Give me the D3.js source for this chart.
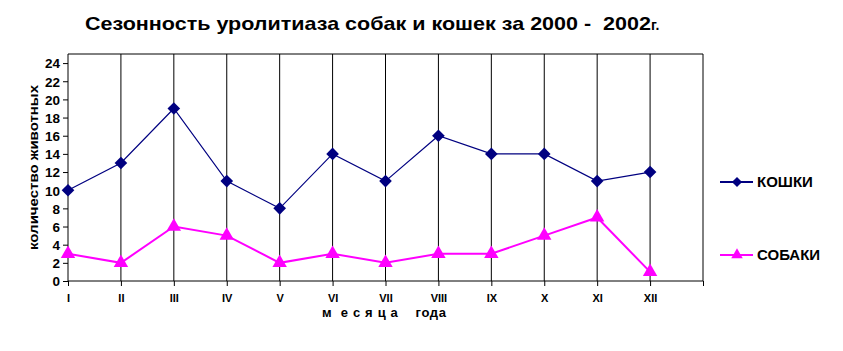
<!DOCTYPE html>
<html>
<head>
<meta charset="utf-8">
<script src="https://cdn.jsdelivr.net/npm/d3@7"></script>
<style>
  body { margin: 0; background: #fff; }
  svg { display: block; font-family: "Liberation Sans", Arial, sans-serif; }
</style>
</head>
<body>
<div id="chart"></div>
<script>
const months = ["I", "II", "III", "IV", "V", "VI", "VII", "VIII", "IX", "X", "XI", "XII"];
const cats = [10, 13, 19, 11, 8, 14, 11, 16, 14, 14, 11, 12];
const dogs = [3, 2, 6, 5, 2, 3, 2, 3, 3, 5, 7, 1];
const yTicks = [0, 2, 4, 6, 8, 10, 12, 14, 16, 18, 20, 22, 24];

const width = 843, height = 351;

const svg = d3
  .select("#chart")
  .append("svg")
  .attr("width", width)
  .attr("height", height);

// one extra empty slot on the right, like the original sheet
const x = d3.scaleLinear().domain([0, 12]).range([68, 703]);
const y = d3.scaleLinear().domain([0, 25]).range([281, 54]);

// title
svg
  .append("text")
  .attr("x", 85)
  .attr("y", 30)
  .attr("font-size", 19)
  .attr("font-weight", "bold")
  .attr("textLength", 566)
  .attr("lengthAdjust", "spacingAndGlyphs")
  .attr("xml:space", "preserve")
  .style("white-space", "pre")
  .text("Сезонность уролитиаза собак и кошек за 2000 -  2002");
svg
  .append("text")
  .attr("x", 651)
  .attr("y", 30)
  .attr("font-size", 14)
  .attr("font-weight", "bold")
  .text("г.");

// vertical grid lines
svg
  .append("g")
  .selectAll("line")
  .data(d3.range(1, 13))
  .join("line")
  .attr("x1", (d) => x(d))
  .attr("x2", (d) => x(d))
  .attr("y1", y(25))
  .attr("y2", y(0))
  .attr("stroke", "#000");

// top border
svg
  .append("line")
  .attr("x1", x(0))
  .attr("x2", x(12))
  .attr("y1", y(25))
  .attr("y2", y(25))
  .attr("stroke", "#000");

// axes
const yAxis = svg
  .append("g")
  .attr("transform", `translate(${x(0)},0)`)
  .call(d3.axisLeft(y).tickValues(yTicks).tickSize(5).tickPadding(3));
yAxis.select(".domain").attr("d", `M0,${y(25)}V${y(0)}`);

const xAxis = svg
  .append("g")
  .attr("transform", `translate(0,${y(0)})`)
  .call(
    d3.axisBottom(x)
      .tickValues(d3.range(0, 13))
      .tickFormat((d) => months[d] || "")
      .tickSize(5)
      .tickPadding(8)
  );
xAxis.select(".domain").attr("d", `M${x(0)},0H${x(12)}`);

svg.selectAll(".tick text")
  .attr("font-family", "Liberation Sans, Arial, sans-serif")
  .attr("font-weight", "bold")
  .attr("fill", "#000");
yAxis.selectAll(".tick text").attr("font-size", 13.5).attr("dy", "0.36em");
xAxis.selectAll(".tick text").attr("font-size", 11);

// axis titles
svg
  .append("text")
  .attr("transform", `translate(38,${(y(0) + y(25)) / 2}) rotate(-90)`)
  .attr("text-anchor", "middle")
  .attr("font-size", 13)
  .attr("font-weight", "bold")
  .attr("textLength", 165)
  .attr("lengthAdjust", "spacingAndGlyphs")
  .text("количество животных");

svg
  .append("text")
  .attr("x", 322)
  .attr("y", 317)
  .attr("font-size", 13)
  .attr("font-weight", "bold")
  .attr("textLength", 124)
  .attr("xml:space", "preserve")
  .style("white-space", "pre")
  .text("м  е с я ц а    года");

// markers
const diamond = d3.symbol(d3.symbolSquare, 80);
const triangle = d3.symbol(d3.symbolTriangle, 90);

const series = [
  { name: "КОШКИ", values: cats, color: "#000080", width: 1.2, marker: diamond, rot: 45, ly: 182 },
  { name: "СОБАКИ", values: dogs, color: "#FF00FF", width: 2, marker: triangle, rot: 0, ly: 255 },
];

const line = d3
  .line()
  .x((d, i) => x(i))
  .y((d) => y(d));

for (const s of series) {
  svg
    .append("path")
    .datum(s.values)
    .attr("fill", "none")
    .attr("stroke", s.color)
    .attr("stroke-width", s.width)
    .attr("d", line);

  svg
    .append("g")
    .selectAll("path")
    .data(s.values)
    .join("path")
    .attr("transform", (d, i) => `translate(${x(i)},${y(d)}) rotate(${s.rot})`)
    .attr("d", s.marker)
    .attr("fill", s.color);

  // legend
  const lg = svg.append("g").attr("transform", `translate(720,${s.ly})`);
  lg.append("line")
    .attr("x1", 0)
    .attr("x2", 33)
    .attr("stroke", s.color)
    .attr("stroke-width", 2);
  lg.append("path")
    .attr("transform", `translate(17,0) rotate(${s.rot}) scale(0.8)`)
    .attr("d", s.marker)
    .attr("fill", s.color);
  lg.append("text")
    .attr("x", 37)
    .attr("dy", "0.36em")
    .attr("font-size", 15)
    .attr("font-weight", "bold")
    .text(s.name);
}
</script>
</body>
</html>
